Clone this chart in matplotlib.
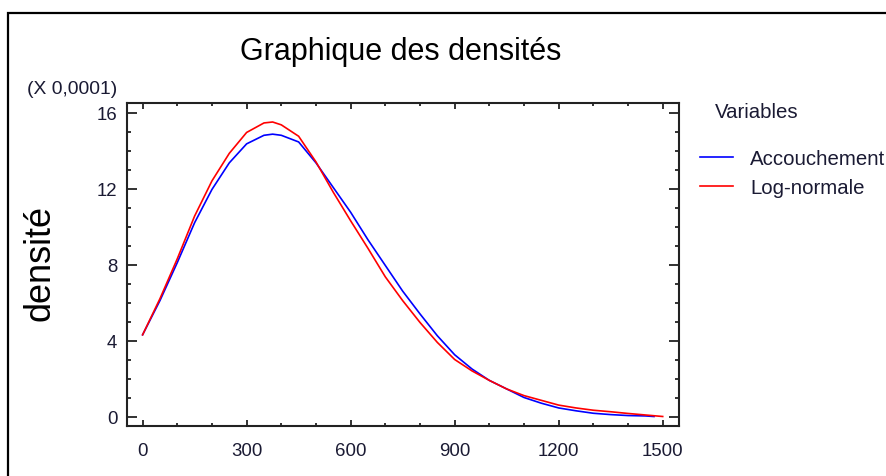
import matplotlib
matplotlib.use("Agg")
import matplotlib.pyplot as plt
from matplotlib import font_manager
from matplotlib.ticker import MultipleLocator, FixedLocator
from matplotlib.patches import Rectangle

# ---- data (density values in units of 0.0001) ----
x_accouchement = [0, 50, 100, 150, 200, 250, 300, 350, 375, 400, 450, 500, 550, 600,
                  650, 700, 750, 800, 850, 900, 950, 1000, 1050, 1100, 1150, 1200,
                  1250, 1300, 1350, 1400, 1450, 1475]
y_accouchement = [4.3, 6.1, 8.1, 10.2, 11.95, 13.35, 14.35, 14.8, 14.86, 14.8, 14.45, 13.35,
                  12.05, 10.75, 9.3, 7.95, 6.6, 5.4, 4.25, 3.25, 2.5, 1.9, 1.45, 1.0, 0.7,
                  0.45, 0.3, 0.17, 0.1, 0.05, 0.03, 0.0]

x_lognormale = [0, 50, 100, 150, 200, 250, 300, 350, 375, 400, 450, 500, 550, 600,
                650, 700, 750, 800, 850, 900, 950, 1000, 1050, 1100, 1150, 1200,
                1250, 1300, 1350, 1400, 1450, 1500]
y_lognormale = [4.3, 6.2, 8.3, 10.55, 12.4, 13.85, 14.95, 15.45, 15.5, 15.35, 14.75, 13.4,
                11.8, 10.3, 8.85, 7.35, 6.1, 4.95, 3.9, 3.0, 2.4, 1.9, 1.45, 1.1, 0.85,
                0.6, 0.45, 0.33, 0.25, 0.16, 0.08, 0.0]

x_ticks = [0, 300, 600, 900, 1200, 1500]
y_ticks = [0, 4, 8, 12, 16]
series_labels = ["Accouchement", "Log-normale"]

title = "Graphique des densités"
ylabel = "densité"
y_scale_note = "(X 0,0001)"
legend_title = "Variables"

FONT = "Liberation Sans"
names = {f.name for f in font_manager.fontManager.ttflist}
if "Liberation Sans Narrow" in names:
    NARROW, NS = "Liberation Sans Narrow", 1.0
else:
    NARROW, NS = "Liberation Sans", 0.84

W, H = 886, 477
fig = plt.figure(figsize=(W / 100, H / 100), dpi=100)

def fx(px):
    return px / W

def fy(py):
    return 1 - py / H

# outer frame
fig.patches.append(Rectangle((fx(8), fy(500)), fx(900) - fx(8), fy(14) - fy(500),
                             transform=fig.transFigure, fill=False,
                             edgecolor="black", linewidth=1.6))

ax = fig.add_axes([fx(127), fy(427), fx(679) - fx(127), fy(104) - fy(427)])
ax.plot(x_accouchement, y_accouchement, color="#0000ff", linewidth=1.2, label=series_labels[0])
ax.plot(x_lognormale, y_lognormale, color="#ff0000", linewidth=1.2, label=series_labels[1])

ax.set_xlim(-45, 1547)
ax.set_ylim(-0.5, 16.5)
ax.xaxis.set_major_locator(FixedLocator(x_ticks))
ax.xaxis.set_minor_locator(MultipleLocator(100))
ax.yaxis.set_major_locator(FixedLocator(y_ticks))
ax.yaxis.set_minor_locator(MultipleLocator(1))
ax.set_xticklabels([str(v) for v in x_ticks])
ax.set_yticklabels([str(v) for v in y_ticks])

for s in ax.spines.values():
    s.set_linewidth(1.5)
    s.set_color("#222222")

ax.tick_params(axis="both", which="both", direction="in", top=True, right=True,
               width=1.3, color="#222222")
ax.tick_params(axis="y", which="major", length=7, pad=7)
ax.tick_params(axis="y", which="minor", length=3)
ax.tick_params(axis="x", which="major", length=4.5, pad=11.5)
ax.tick_params(axis="x", which="minor", length=2.5)
for lab in ax.get_xticklabels() + ax.get_yticklabels():
    lab.set_fontfamily(NARROW)
    lab.set_fontsize(16 * NS)
    lab.set_color("#1a1a33")

fig.text(fx(401), fy(52), title, fontfamily=FONT, fontsize=22,
         ha="center", va="center", color="black")
fig.text(fx(40), fy(263), ylabel, fontfamily=FONT, fontsize=26, rotation=90,
         ha="center", va="center", color="black")
fig.text(fx(117), fy(90), y_scale_note, fontfamily=NARROW, fontsize=16.5 * NS,
         ha="right", va="center", color="#1a1a33")
fig.text(fx(715), fy(113), legend_title, fontfamily=NARROW, fontsize=17.5 * NS,
         ha="left", va="center", color="#1a1a33")

leg = ax.legend(loc="upper left", bbox_to_anchor=(fx(700), fy(150)),
                bbox_transform=fig.transFigure, frameon=False,
                prop={"family": NARROW, "size": 17.5 * NS}, handlelength=1.6,
                handletextpad=0.85, labelspacing=0.5, borderpad=0, borderaxespad=0)
for t in leg.get_texts():
    t.set_color("#1a1a33")

fig.savefig("out.png", dpi=100)
